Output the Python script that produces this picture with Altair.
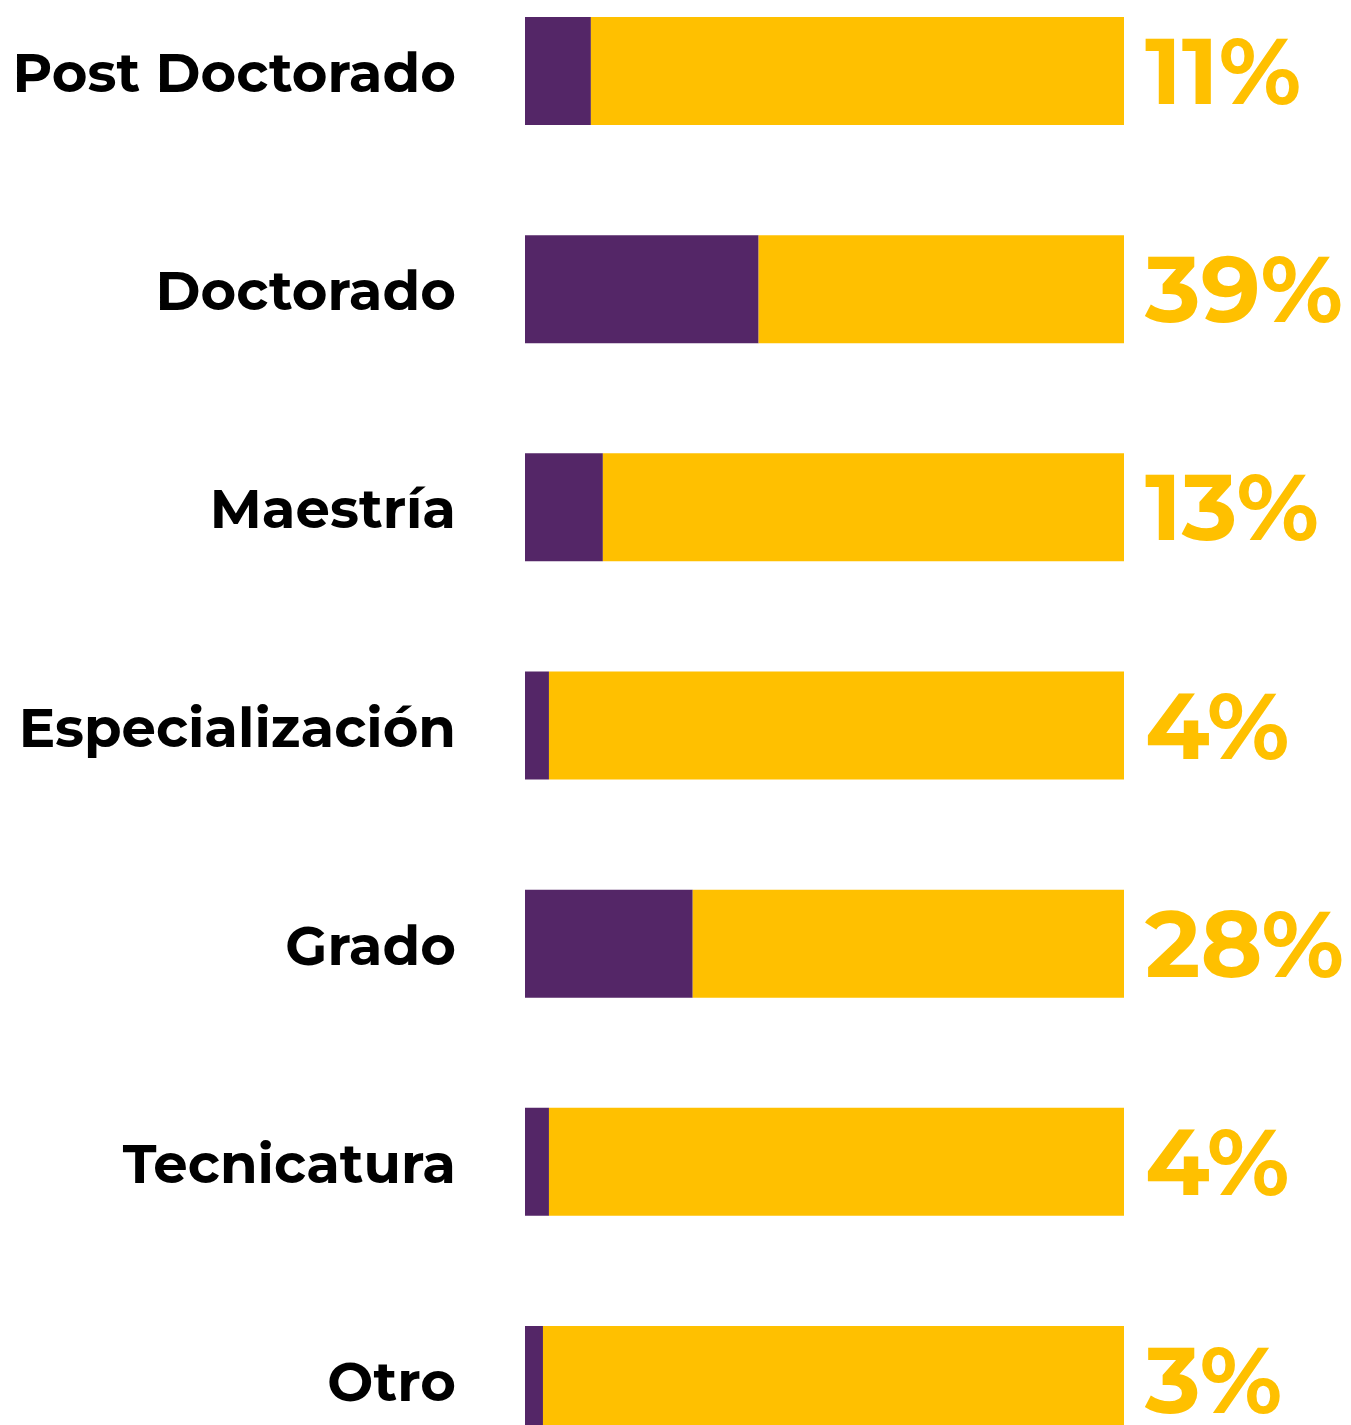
import altair as alt
import pandas as pd

categories = ["Post Doctorado", "Doctorado", "Maestría", "Especialización", "Grado", "Tecnicatura", "Otro"]
percent = [11, 39, 13, 4, 28, 4, 3]
pct_labels = ["11%", "39%", "13%", "4%", "28%", "4%", "3%"]

PURPLE = "#542667"
YELLOW = "#FFC000"

rows = []
for c, p in zip(categories, percent):
    rows.append({"cat": c, "part": "a", "start": 0, "end": p})
    rows.append({"cat": c, "part": "b", "start": p, "end": 100})
bars_df = pd.DataFrame(rows)
lab_df = pd.DataFrame({"cat": categories, "pct": pct_labels})

yscale = alt.Scale(domain=categories, paddingInner=0.505, paddingOuter=0)
xscale = alt.Scale(domain=[0, 100], nice=False, zero=True)

bars = alt.Chart(bars_df).mark_bar(strokeWidth=0).encode(
    y=alt.Y("cat:N", scale=yscale, axis=None, sort=categories),
    x=alt.X("start:Q", scale=xscale, axis=None),
    x2="end:Q",
    color=alt.Color("part:N", scale=alt.Scale(domain=["a", "b"], range=[PURPLE, YELLOW]), legend=None),
)

left = alt.Chart(lab_df).mark_text(
    align="right", baseline="alphabetic", dy=21, font="Montserrat, Open Sans",
    fontWeight="bold", fontSize=54.5, color="#000000"
).encode(
    y=alt.Y("cat:N", scale=yscale, axis=None, sort=categories),
    x=alt.value(-69),
    text="cat:N",
)

right = alt.Chart(lab_df).mark_text(
    align="left", baseline="alphabetic", dy=33, font="Montserrat, Open Sans",
    fontWeight="bold", fontSize=94, color=YELLOW
).encode(
    y=alt.Y("cat:N", scale=yscale, axis=None, sort=categories),
    x=alt.value(620),
    text="pct:N",
)

chart = alt.layer(bars, left, right).properties(
    width=599, height=1417,
    autosize=alt.AutoSizeParams(type="none"),
    padding={"left": 517, "top": 9, "right": 218, "bottom": 0},
    background="white",
).configure_view(stroke=None, strokeWidth=0)

chart.save("out.html", embed_options={"renderer": "svg", "actions": False})
